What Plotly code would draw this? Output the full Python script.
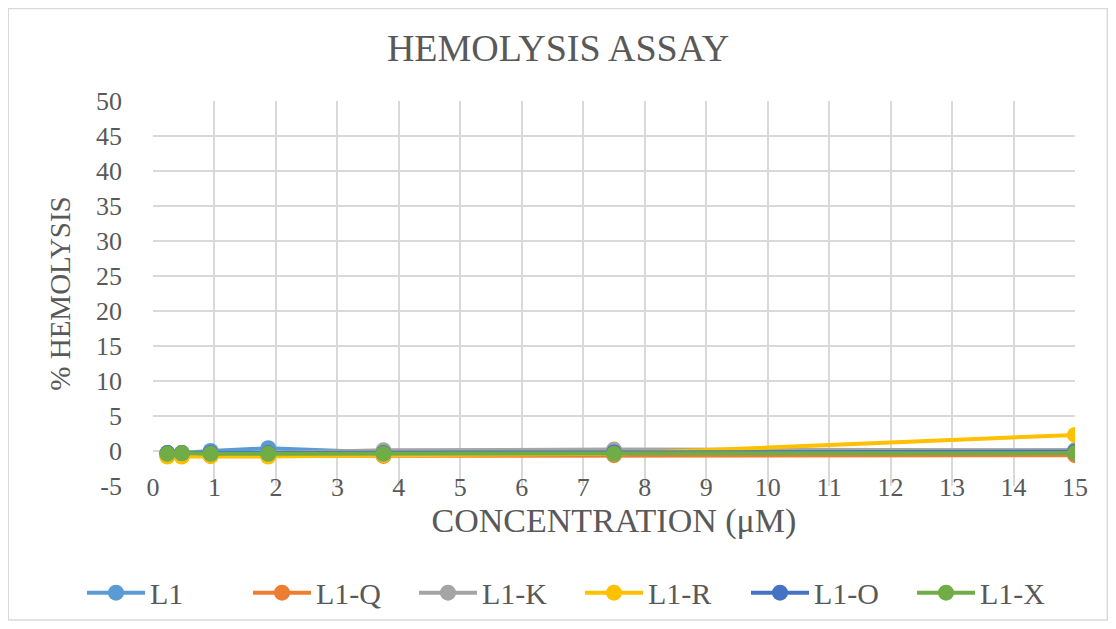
import plotly.graph_objects as go

concentracao = [0.234, 0.469, 0.9375, 1.875, 3.75, 7.5, 15]

l1 = [-0.3, -0.3, 0.0, 0.4, -0.2, -0.2, 0.1]
l1_q = [-0.7, -0.7, -0.7, -0.7, -0.7, -0.6, -0.6]
l1_k = [-0.3, -0.3, -0.3, -0.3, 0.1, 0.2, 0.1]
l1_r = [-0.8, -0.8, -0.7, -0.8, -0.6, -0.4, 2.3]
l1_o = [-0.3, -0.3, -0.3, -0.3, -0.3, -0.2, -0.1]
l1_x = [-0.4, -0.3, -0.4, -0.4, -0.4, -0.4, -0.3]

# rótulos do eixo y com hífen simples, como no original
y_ticks = [-5, 0, 5, 10, 15, 20, 25, 30, 35, 40, 45, 50]
y_labels = ["-5", "0", "5", "10", "15", "20", "25", "30", "35", "40", "45", "50"]

series = [
    ("L1", l1, "#5b9bd5"),
    ("L1-Q", l1_q, "#ed7d31"),
    ("L1-K", l1_k, "#a5a5a5"),
    ("L1-R", l1_r, "#ffc000"),
    ("L1-O", l1_o, "#4472c4"),
    ("L1-X", l1_x, "#70ad47"),
]

fig = go.Figure()
for nome, valores, cor in series:
    fig.add_trace(go.Scatter(
        x=concentracao, y=valores, name=nome, mode="lines+markers",
        line=dict(color=cor, width=4),
        marker=dict(color=cor, size=16),
    ))

fonte = "Liberation Serif, Times New Roman, serif"
fig.update_layout(
    width=1100, height=613,
    title=dict(text="HEMOLYSIS ASSAY", x=0.5, xanchor="center",
               y=0.935, yanchor="middle",
               font=dict(family=fonte, size=38, color="#595959")),
    paper_bgcolor="white",
    plot_bgcolor="white",
    font=dict(family=fonte, color="#595959", size=26),
    margin=dict(t=93, b=135, l=145, r=33, autoexpand=False),
    xaxis=dict(
        range=[0, 15], tickmode="linear", dtick=1, automargin=False,
        showgrid=True, gridcolor="#d9d9d9", gridwidth=2,
        zeroline=False, showline=False, ticks="", ticklabelstandoff=-17,
        title=dict(text="CONCENTRATION (μM)", standoff=6,
                   font=dict(family=fonte, size=34, color="#595959")),
    ),
    yaxis=dict(
        range=[-5, 50], tickmode="array", tickvals=y_ticks, ticktext=y_labels,
        automargin=False,
        showgrid=True, gridcolor="#d9d9d9", gridwidth=2,
        zeroline=False, showline=False, ticks="", ticklabelstandoff=30,
        title=dict(text="% HEMOLYSIS", standoff=16,
                   font=dict(family=fonte, size=29, color="#595959")),
    ),
    legend=dict(orientation="h", x=-0.077, xanchor="left",
                y=-0.277, yanchor="middle",
                font=dict(family=fonte, size=30, color="#595959"),
                itemwidth=58, entrywidth=93, traceorder="normal"),
    shapes=[dict(type="rect", xref="paper", yref="paper",
                 x0=-0.157, x1=1.035, y0=-0.348, y1=1.24,
                 line=dict(color="#d9d9d9", width=1.5))],
)

fig.write_html("out.html")
